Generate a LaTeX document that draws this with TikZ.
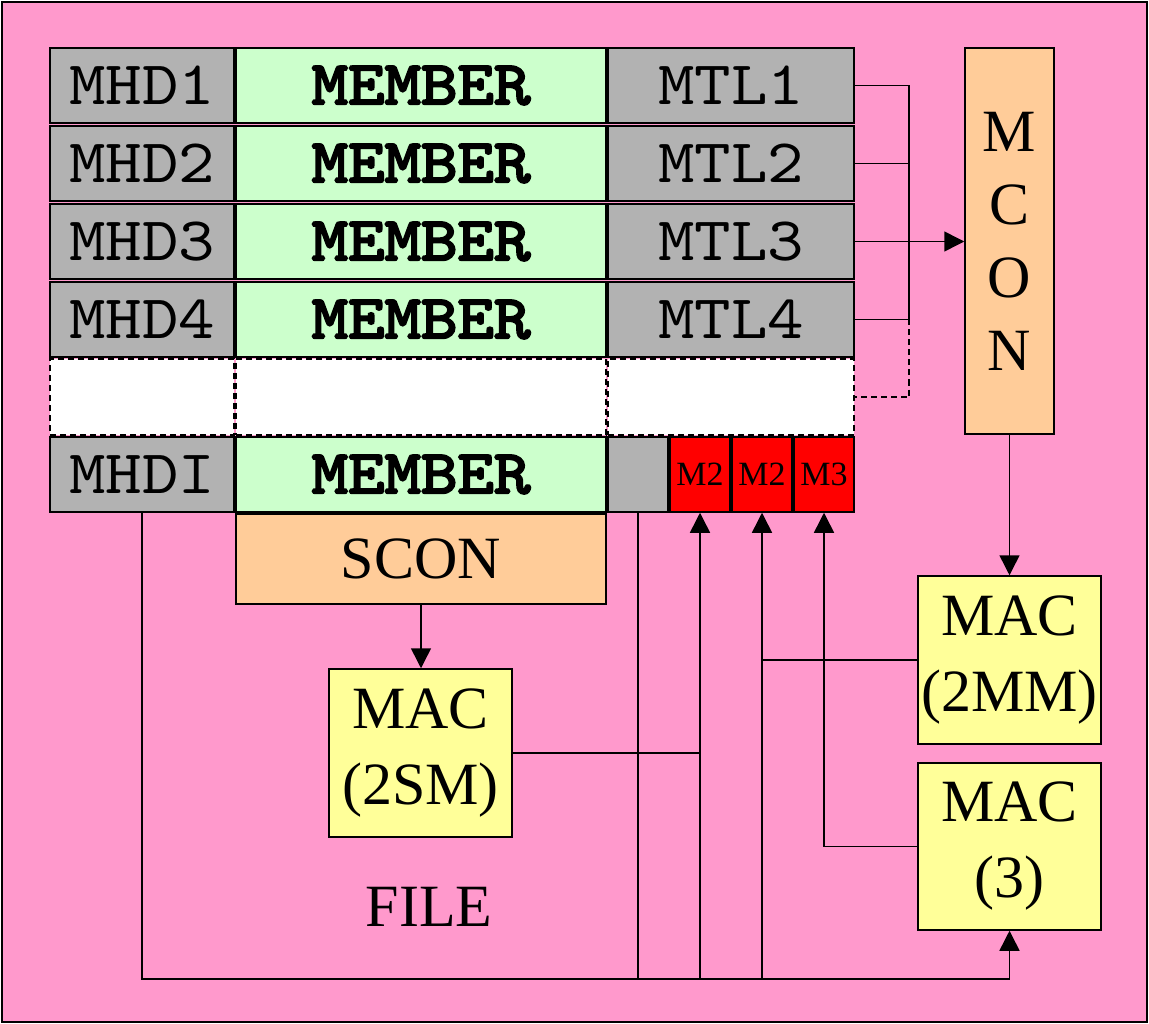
\documentclass[tikz,border=0pt]{standalone}
\usepackage{fontspec}
\setmainfont{Liberation Serif}
\newfontfamily\cour{lmmono10-regular}[Extension=.otf,FakeStretch=1.12]
\newfontfamily\courb{lmmono10-regular}[Extension=.otf,FakeStretch=1.12,FakeBold=3.5]
\usetikzlibrary{arrows.meta}
\definecolor{pinkbg}{HTML}{FF99CC}
\definecolor{cgray}{HTML}{B2B2B2}
\definecolor{cgreen}{HTML}{CCFFCC}
\definecolor{corange}{HTML}{FFCC99}
\definecolor{cyellow}{HTML}{FFFF99}
\definecolor{cred}{HTML}{FF0000}
\tikzset{
  cell/.style={draw=black, line width=1.5pt, inner sep=0pt, anchor=center},
  greycell/.style={cell, fill=cgray, font=\cour\fontsize{62}{62}\selectfont},
  memcell/.style={cell, fill=cgreen, font=\courb\fontsize{62}{62}\selectfont},
  dshcell/.style={cell, fill=white, line width=1.2pt, dash pattern=on 6pt off 4pt},
  redcell/.style={cell, fill=cred, minimum width=60pt, minimum height=75pt, font=\fontsize{34}{34}\selectfont},
  conbox/.style={cell, fill=corange, font=\fontsize{60}{73}\selectfont, align=center},
  macbox/.style={cell, fill=cyellow, minimum width=183pt, minimum height=168pt, font=\fontsize{60}{76}\selectfont, align=center},
  con/.style={line width=1.5pt},
  arr/.style={con, -{Triangle[length=20pt,width=20pt]}},
  c1/.style={minimum width=184pt},
  c2/.style={minimum width=370pt},
  c3/.style={minimum width=246pt},
  rh/.style={minimum height=75pt},
}
\begin{document}
\begin{tikzpicture}[x=1pt,y=-1pt]
\useasboundingbox (0,0) rectangle (1149,1024);
\draw[fill=pinkbg, line width=2pt] (2,2) rectangle (1147,1022);
% rows
\node[greycell,c1,rh] (mhd1) at (142,85.5) {MHD1};
\node[memcell,c2,rh] (mem1) at (421,85.5) {MEMBER};
\node[greycell,c3,rh] (mtl1) at (731,85.5) {MTL1};
\node[greycell,c1,rh] (mhd2) at (142,163.5) {MHD2};
\node[memcell,c2,rh] (mem2) at (421,163.5) {MEMBER};
\node[greycell,c3,rh] (mtl2) at (731,163.5) {MTL2};
\node[greycell,c1,rh] (mhd3) at (142,241.5) {MHD3};
\node[memcell,c2,rh] (mem3) at (421,241.5) {MEMBER};
\node[greycell,c3,rh] (mtl3) at (731,241.5) {MTL3};
\node[greycell,c1,rh] (mhd4) at (142,319.5) {MHD4};
\node[memcell,c2,rh] (mem4) at (421,319.5) {MEMBER};
\node[greycell,c3,rh] (mtl4) at (731,319.5) {MTL4};
\node[dshcell,c1,minimum height=76pt] (dsh1) at (142,397) {};
\node[dshcell,c2,minimum height=76pt] (dsh2) at (421,397) {};
\node[dshcell,c3,minimum height=76pt] (dsh3) at (731,397) {};
\node[greycell,c1,rh] (mhdi) at (142,474.5) {MHDI};
\node[memcell,c2,rh] (memi) at (421,474.5) {MEMBER};
\node[greycell,minimum width=60pt,rh] (gry) at (638,474.5) {};
\node[redcell] (m2a) at (700,474.5) {M2};
\node[redcell] (m2b) at (762,474.5) {M2};
\node[redcell] (m3) at (824,474.5) {M3};
% boxes
\node[conbox, minimum width=89pt, minimum height=386pt] (mcon) at (1009.5,241) {M\\C\\O\\N};
\node[conbox, minimum width=370pt, minimum height=90pt] (scon) at (421,559) {SCON};
\node[macbox] (mac2sm) at (420.5,753) {MAC\\(2SM)};
\node[macbox] (mac2mm) at (1009.5,660) {MAC\\(2MM)};
\node[macbox, minimum height=167pt] (mac3) at (1009.5,846.5) {MAC\\(3)};
\node[font=\fontsize{60}{60}\selectfont, inner sep=0pt] (file) at (429,907) {FILE};
% connectors MTL -> MCON
\coordinate (jt) at (909,85.5);
\coordinate (bl) at (143,979);
\draw[con] (mtl1.east) -- (mtl1.east -| jt) -- (mtl4.east -| jt) -- (mtl4.east);
\draw[con] (mtl2.east) -- (mtl2.east -| jt);
\draw[arr] (mtl3.east) -- (mtl3.east -| mcon.west);
\draw[con, dash pattern=on 6pt off 4pt] (mtl4.east -| jt) -- (dsh3.east -| jt) -- (dsh3.east);
\draw[arr] (mcon.south) -- (mac2mm.north);
\draw[arr] (scon.south) -- (scon.south |- mac2sm.north);
\draw[arr] (mac2sm.east) -| (m2a.south);
\draw[arr] (mac2mm.west) -| (m2b.south);
\draw[arr] (mac3.west) -| (m3.south);
\draw[arr] (mhdi.south) -- (mhdi.south |- bl) -| (mac3.south);
\draw[con] (gry.south) -- (gry.south |- bl);
\draw[con] (m2a.south |- mac2sm.east) -- (m2a.south |- bl);
\draw[con] (m2b.south |- mac2mm.west) -- (m2b.south |- bl);
\end{tikzpicture}
\end{document}
